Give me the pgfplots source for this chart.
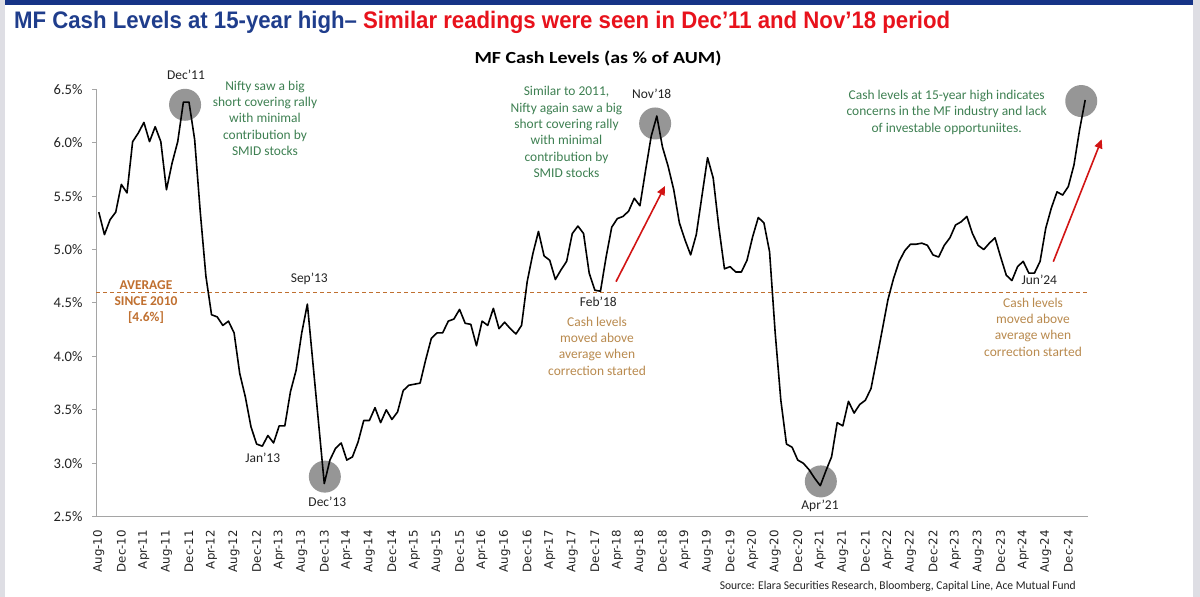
\documentclass[border=0pt]{standalone}
\usepackage{pgfplots}
\pgfplotsset{compat=1.18}
\usepackage{pgfplotstable}
\usepackage{fontspec}
\usetikzlibrary{arrows.meta}
\setmainfont{Carlito}
\newfontfamily\titlefont{Liberation Sans}
\newfontfamily\tickfont{DejaVu Sans}
\definecolor{barblue}{RGB}{22,52,135}
\definecolor{titleblue}{RGB}{31,61,140}
\definecolor{titlered}{RGB}{232,18,28}
\definecolor{sidegray}{RGB}{222,222,228}
\definecolor{axisgray}{RGB}{165,165,165}
\definecolor{circgray}{RGB}{150,150,150}
\definecolor{greentxt}{RGB}{62,128,82}
\definecolor{avgbrown}{RGB}{192,112,48}
\definecolor{tantxt}{RGB}{185,138,78}
\definecolor{arrowred}{RGB}{210,20,20}
\definecolor{labelblack}{RGB}{35,35,35}

\pgfplotstableread{
x y
0 5.35
1 5.14
2 5.28
3 5.35
4 5.61
5 5.53
6 6.01
7 6.09
8 6.19
9 6.01
10 6.15
11 6.01
12 5.56
13 5.81
14 6.01
15 6.38
16 6.38
17 6.03
18 5.35
19 4.75
20 4.39
21 4.37
22 4.29
23 4.33
24 4.22
25 3.84
26 3.62
27 3.34
28 3.18
29 3.16
30 3.26
31 3.19
32 3.35
33 3.35
34 3.67
35 3.87
36 4.22
37 4.49
38 3.93
39 3.37
40 2.81
41 3.03
42 3.14
43 3.19
44 3.03
45 3.06
46 3.20
47 3.40
48 3.40
49 3.52
50 3.38
51 3.50
52 3.41
53 3.48
54 3.68
55 3.73
56 3.74
57 3.75
58 3.97
59 4.17
60 4.22
61 4.22
62 4.33
63 4.35
64 4.44
65 4.31
66 4.30
67 4.10
68 4.33
69 4.29
70 4.45
71 4.26
72 4.32
73 4.26
74 4.21
75 4.29
76 4.70
77 4.96
78 5.17
79 4.94
80 4.90
81 4.72
82 4.81
83 4.89
84 5.15
85 5.22
86 5.15
87 4.78
88 4.62
89 4.61
90 4.93
91 5.21
92 5.29
93 5.31
94 5.36
95 5.48
96 5.41
97 5.74
98 6.06
99 6.25
100 5.96
101 5.78
102 5.56
103 5.25
104 5.09
105 4.95
106 5.14
107 5.50
108 5.86
109 5.67
110 5.21
111 4.82
112 4.84
113 4.79
114 4.79
115 4.90
116 5.12
117 5.30
118 5.25
119 4.98
120 4.22
121 3.59
122 3.18
123 3.15
124 3.03
125 3.00
126 2.94
127 2.86
128 2.79
129 2.93
130 3.06
131 3.38
132 3.35
133 3.58
134 3.47
135 3.55
136 3.59
137 3.70
138 3.97
139 4.25
140 4.53
141 4.73
142 4.89
143 4.99
144 5.05
145 5.05
146 5.06
147 5.04
148 4.95
149 4.93
150 5.04
151 5.11
152 5.23
153 5.26
154 5.31
155 5.15
156 5.04
157 5.00
158 5.06
159 5.11
160 4.93
161 4.76
162 4.71
163 4.84
164 4.89
165 4.78
166 4.78
167 4.89
168 5.20
169 5.39
170 5.54
171 5.51
172 5.59
173 5.79
174 6.12
175 6.40
}\cashdata

\begin{document}
\begin{tikzpicture}[x=1bp,y=1bp]
\path[use as bounding box] (0,0) rectangle (1200,597);
\fill[white] (0,0) rectangle (1200,597);
\fill[sidegray] (0,0) rectangle (5,597);
\fill[sidegray] (1193,0) rectangle (1200,597);
\fill[barblue] (5,592) rectangle (1193,597);

% titles
\node[anchor=base west, inner sep=0pt, text=titleblue] at (14,568)
  {\resizebox{936bp}{\height}{\titlefont\bfseries\fontsize{24}{26}\selectfont MF Cash Levels at 15-year high– \textcolor{titlered}{Similar readings were seen in Dec’11 and Nov’18 period}}};
\node[anchor=base, inner sep=0pt] at (598,533)
  {\resizebox{247bp}{\height}{\bfseries\fontsize{17}{19}\selectfont MF Cash Levels (as \% of AUM)}};

\begin{axis}[
  at={(96bp,80.3bp)}, anchor=south west, scale only axis,
  width=992bp, height=427.4bp,
  xmin=-0.5, xmax=175.5, ymin=2.5, ymax=6.5,
  axis x line*=bottom, axis y line*=left,
  axis line style={draw=axisgray, line width=1bp, -},
  clip=false,
  tick align=outside, major tick length=4bp,
  xtick={0,4,...,172},
  xticklabels={Aug-10,Dec-10,Apr-11,Aug-11,Dec-11,Apr-12,Aug-12,Dec-12,Apr-13,Aug-13,Dec-13,Apr-14,Aug-14,Dec-14,Apr-15,Aug-15,Dec-15,Apr-16,Aug-16,Dec-16,Apr-17,Aug-17,Dec-17,Apr-18,Aug-18,Dec-18,Apr-19,Aug-19,Dec-19,Apr-20,Aug-20,Dec-20,Apr-21,Aug-21,Dec-21,Apr-22,Aug-22,Dec-22,Apr-23,Aug-23,Dec-23,Apr-24,Aug-24,Dec-24},
  xticklabel style={font={\tickfont\fontsize{11.8}{12}\selectfont}, rotate=90, anchor=east, text=labelblack},
  xticklabel shift=6bp,
  x tick style={draw=none},
  ytick={2.5,3,3.5,4,4.5,5,5.5,6,6.5},
  yticklabel={\pgfmathprintnumber[fixed,fixed zerofill,precision=1]{\tick}\%},
  yticklabel style={font=\fontsize{14.6}{16}\selectfont, text=labelblack, xshift=-6bp},
  y tick style={draw=axisgray, line width=1bp},
  /pgf/number format/assume math mode=true,
]
\fill[circgray] (axis cs:15.3,6.355) circle[radius=16bp];
\fill[circgray] (axis cs:40.1,2.875) circle[radius=16bp];
\fill[circgray] (axis cs:98.7,6.18) circle[radius=16bp];
\fill[circgray] (axis cs:128.1,2.83) circle[radius=16bp];
\fill[circgray] (axis cs:174.3,6.39) circle[radius=16bp];
\addplot[avgbrown, line width=1.3bp, dash pattern=on 4bp off 3bp, forget plot] coordinates {(-0.5,4.6) (175.5,4.6)};
\addplot[black, line width=1.6bp, no markers, line join=round] table[x=x,y=y]{\cashdata};
\end{axis}

% point labels
\begin{scope}[every node/.style={inner sep=0pt, text=labelblack, font=\fontsize{13.5}{16}\selectfont}]
\node at (186,522) {Dec'11};
\node at (651.7,503) {Nov'18};
\node at (309.3,318) {Sep'13};
\node at (262.7,139.3) {Jan'13};
\node at (327.3,95.3) {Dec'13};
\node at (598.3,295.3) {Feb'18};
\node at (820,91) {Apr'21};
\node at (1039.3,317) {Jun'24};
\end{scope}

% annotations
\begin{scope}[every node/.style={inner sep=0pt, align=center, font=\fontsize{13.5}{16.4}\selectfont}]
\node[text=greentxt] at (265,478.7) {Nifty saw a big\\short covering rally\\with minimal\\contribution by\\SMID stocks};
\node[text=greentxt] at (566.5,465) {Similar to 2011,\\Nifty again saw a big\\short covering rally\\with minimal\\contribution by\\SMID stocks};
\node[text=greentxt] at (946.7,484.7) {Cash levels at 15-year high indicates\\concerns in the MF industry and lack\\of investable opportuniites.};
\node[text=tantxt] at (597,251.1) {Cash levels\\moved above\\average when\\correction started};
\node[text=tantxt] at (1033,270) {Cash levels\\moved above\\average when\\correction started};
\node[text=avgbrown, font=\bfseries\fontsize{13.5}{16.2}\selectfont] at (146,295) {AVERAGE\\SINCE 2010\\{[4.6\%]}};
\end{scope}

% arrows
\draw[arrowred, line width=1.6bp, -{Triangle[length=9bp,width=8bp]}] (616,315.3) -- (665,411);
\draw[arrowred, line width=1.6bp, -{Triangle[length=9bp,width=8bp]}] (1053.3,335.3) -- (1101.7,457.7);

% source
\node[anchor=base east, inner sep=0pt, text=labelblack] at (1076,7)
  {\resizebox{356bp}{\height}{\fontsize{12}{14}\selectfont Source: Elara Securities Research, Bloomberg, Capital Line, Ace Mutual Fund}};
\end{tikzpicture}
\end{document}
